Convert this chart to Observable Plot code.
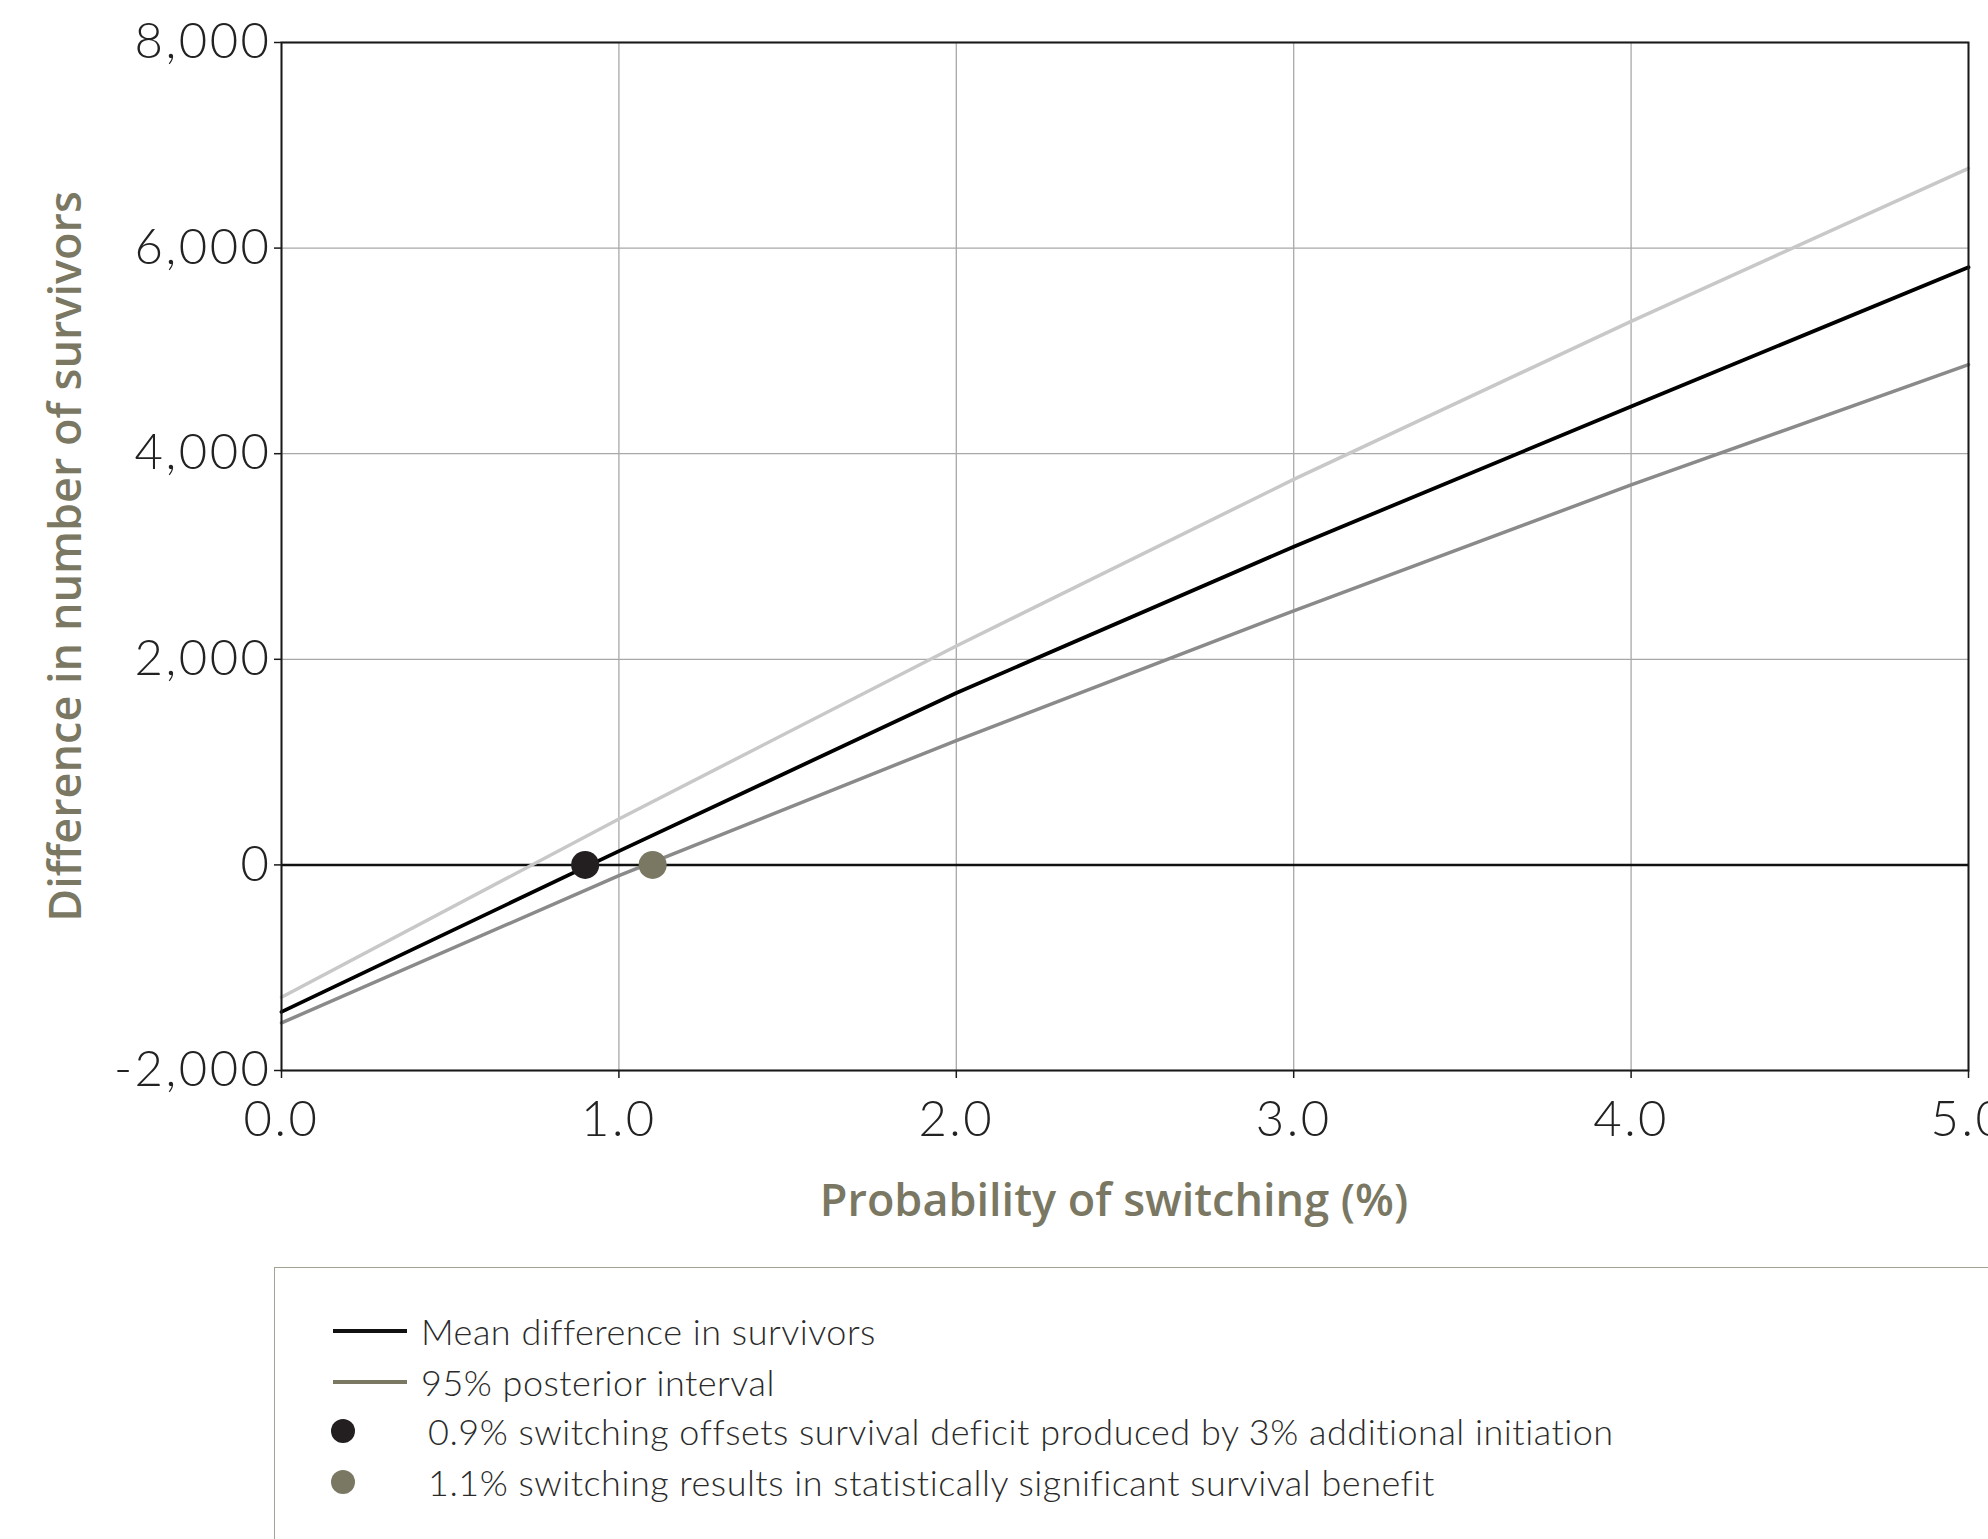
<!DOCTYPE html>
<html>
<head>
<meta charset="utf-8">
<script src="https://cdn.jsdelivr.net/npm/d3@7"></script>
<script src="https://cdn.jsdelivr.net/npm/@observablehq/plot@0.6"></script>
<style>
  html, body { margin: 0; padding: 0; background: #fff; overflow: hidden; }
  #wrap { position: relative; width: 1988px; height: 1539px; overflow: hidden; }
  #chart g[aria-label$="tick label"] text { letter-spacing: 2.5px; }
  #legend { position: absolute; left: 274px; top: 1267px; width: 1800px; height: 400px;
            border: 1.5px solid #a3a394; box-sizing: border-box; font-family: Lato, sans-serif;
            font-weight: 300; font-size: 36px; letter-spacing: 0.5px; color: #2a2a2a; }
  .row { position: absolute; left: 0; height: 40px; }
  .row svg { position: absolute; top: 0; left: 0; }
  .row span { position: absolute; top: 0; line-height: 40px; white-space: nowrap; }
</style>
</head>
<body>
<div id="wrap">
  <div id="chart"></div>
  <div id="legend"></div>
</div>
<script>
// ---- data ----
const xValues  = [0, 1, 2, 3, 4, 5];
const meanDiff = [-1430, 134, 1672, 3095, 4459, 5814];
const upper95  = [-1287, 446, 2130, 3750, 5288, 6776];
const lower95  = [-1537, -105, 1210, 2471, 3696, 4866];
const pointX   = [0.9, 1.1];
const pointY   = [0, 0];
const pointColors = ["#231f20", "#7a7763"];
const xTicks = [0, 1, 2, 3, 4, 5];
const yTicks = [-2000, 0, 2000, 4000, 6000, 8000];
const xTitle = "Probability of switching (%)";
const yTitle = "Difference in number of survivors";
const legendItems = [
  {type: "line", color: "#111111", label: "Mean difference in survivors"},
  {type: "line", color: "#7a7763", label: "95% posterior interval"},
  {type: "dot",  color: "#231f20", label: "0.9% switching offsets survival deficit produced by 3% additional initiation"},
  {type: "dot",  color: "#7a7763", label: "1.1% switching results in statistically significant survival benefit"}
];

const toRows = ys => xValues.map((x, i) => ({x, y: ys[i]}));
const meanData = toRows(meanDiff);
const upperData = toRows(upper95);
const lowerData = toRows(lower95);
const points = pointX.map((x, i) => ({x, y: pointY[i], c: pointColors[i]}));

const W = 1988, H = 1250;
const chart = Plot.plot({
  width: W,
  height: H,
  marginLeft: 281,
  marginRight: 20,
  marginTop: 42,
  marginBottom: 180,
  style: {fontFamily: "Lato, sans-serif", fontSize: "49px", fontWeight: 300, color: "#222", background: "#fff", overflow: "visible"},
  x: {domain: [0, 5]},
  y: {domain: [-2000, 8000]},
  marks: [
    Plot.gridX(xTicks, {stroke: "#a8a8a8", strokeOpacity: 1, strokeWidth: 1.3}),
    Plot.gridY(yTicks, {stroke: "#a8a8a8", strokeOpacity: 1, strokeWidth: 1.3}),
    Plot.ruleY([0], {stroke: "#111", strokeWidth: 2.5}),
    Plot.line(upperData, {x: "x", y: "y", stroke: "#c8c8c8", strokeWidth: 3.5}),
    Plot.line(lowerData, {x: "x", y: "y", stroke: "#8a8a8a", strokeWidth: 3.5}),
    Plot.line(meanData, {x: "x", y: "y", stroke: "#000", strokeWidth: 3.8}),
    Plot.dot(points, {x: "x", y: "y", r: 14, fill: "c", stroke: null}),
    Plot.frame({stroke: "#1a1a1a", strokeWidth: 2}),
    Plot.axisX(xTicks, {tickFormat: d3.format(".1f"), tickSize: 8, tickPadding: 23, label: null, stroke: "#1a1a1a", strokeWidth: 1.5}),
    Plot.axisY(yTicks, {tickFormat: d => d3.format(",")(d).replace("\u2212", "-"), tickSize: 7, tickPadding: 3, label: null, stroke: "#1a1a1a", strokeWidth: 1.5}),
    Plot.text([xTitle], {frameAnchor: "bottom", dx: -11, dy: 131, lineAnchor: "middle", textAnchor: "middle",
      fill: "#7a7763", fontSize: 45, fontWeight: 600, fontFamily: "'Open Sans', sans-serif", text: d => d}),
    Plot.text([yTitle], {frameAnchor: "left", dx: -215, rotate: -90, lineAnchor: "middle", textAnchor: "middle",
      fill: "#7a7763", fontSize: 45, fontWeight: 600, fontFamily: "'Open Sans', sans-serif", text: d => d})
  ]
});
document.getElementById("chart").appendChild(chart);

// ---- legend ----
const legend = document.getElementById("legend");
const rowTops = [63, 114, 163, 214];
legendItems.forEach((item, i) => {
  const row = document.createElement("div");
  row.className = "row";
  row.style.top = (rowTops[i] - 20) + "px";
  row.style.width = "1700px";
  let sw;
  if (item.type === "line") {
    sw = `<svg width="140" height="40"><line x1="58" x2="132" y1="20" y2="20" stroke="${item.color}" stroke-width="4"/></svg>`;
  } else {
    sw = `<svg width="140" height="40"><circle cx="68" cy="20" r="12" fill="${item.color}"/></svg>`;
  }
  const left = item.type === "line" ? 146 : 153;
  row.innerHTML = sw + `<span style="left:${left}px">${item.label}</span>`;
  legend.appendChild(row);
});
</script>
</body>
</html>
